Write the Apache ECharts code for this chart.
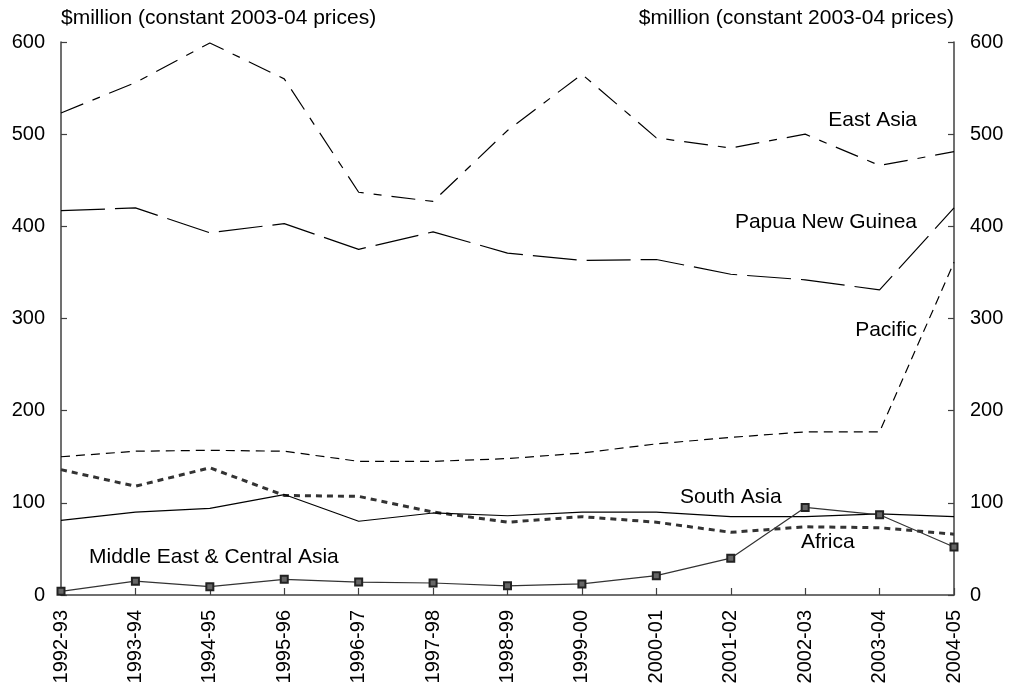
<!DOCTYPE html>
<html><head><meta charset="utf-8">
<script src="https://cdn.jsdelivr.net/npm/echarts@6/dist/echarts.min.js"></script>
<style>html,body{margin:0;padding:0;background:#fff}#c{width:1012px;height:693px}</style>
</head><body><div id="c"></div>
<script>
const years = ['1992-93','1993-94','1994-95','1995-96','1996-97','1997-98','1998-99','1999-00','2000-01','2001-02','2002-03','2003-04','2004-05'];
const eastAsia   = [523,556,599,560,437,427,504,565,496,485,500,466,481];
const png        = [417,420,393,403,375,394,371,363,364,348,342,331,420];
const pacific    = [150,156,157,156,145,145,148,154,164,171,177,177,361];
const africa     = [136,118,138,108,107,90,79,85,79,68,74,73,66];
const southAsia  = [81,90,94,109,80,89,86,90,90,85,85,88,85];
const middleEast = [4,15,9,17,14,13,10,12,21,40,95,87,52];
const yTicks = [0,100,200,300,400,500,600];
const axisTitle = '$million (constant 2003-04 prices)';

const F = 'Liberation Sans, Arial, sans-serif';
const axisCol = '#404040';
const chart = echarts.init(document.getElementById('c'));
function yAx(pos){
  return {
    type:'value', position:pos, min:yTicks[0], max:yTicks[yTicks.length-1], interval:100,
    name: axisTitle, nameLocation:'end', nameGap:24,
    nameTextStyle:{fontFamily:F,fontSize:21,color:'#000',align:pos==='left'?'left':'right',verticalAlign:'middle'},
    axisLine:{show:true,lineStyle:{color:axisCol,width:1.5}},
    axisTick:{show:true,inside:true,length:6,lineStyle:{color:axisCol,width:1.2}},
    axisLabel:{fontFamily:F,fontSize:20,color:'#000',margin:16},
    splitLine:{show:false}
  };
}
function line(name,data,style,extra){
  return Object.assign({name,type:'line',data,yAxisIndex:0,showSymbol:false,symbol:'none',
    lineStyle:Object.assign({color:'#000',width:1.2},style),animation:false,z:3},extra||{});
}
chart.setOption({
  animation:false,
  grid:{left:61,right:58,top:42,bottom:98,containLabel:false},
  xAxis:{type:'category',data:years,boundaryGap:false,
    axisLine:{lineStyle:{color:axisCol,width:1.5}},
    axisTick:{inside:true,length:7,lineStyle:{color:axisCol,width:1.2}},
    axisLabel:{rotate:90,fontFamily:F,fontSize:20,color:'#000',margin:15,interval:0}},
  yAxis:[yAx('left'),yAx('right')],
  series:[
    line('East Asia',eastAsia,{type:[24,10,8,10]}),
    line('Papua New Guinea',png,{type:[44,10]}),
    line('Pacific',pacific,{type:[9,6]}),
    line('Africa',africa,{type:[6,5],width:3,color:'#333'}),
    line('South Asia',southAsia,{}),
    line('Middle East & Central Asia',middleEast,{color:'#333'},
      {showSymbol:true,symbol:'rect',symbolSize:7,itemStyle:{color:'#666',borderColor:'#222',borderWidth:2}})
  ],
  graphic:[
    {type:'text',right:1012-917,top:110,style:{text:'East Asia',font:'21px '+F,fill:'#000'}},
    {type:'text',right:1012-917,top:212,style:{text:'Papua New Guinea',font:'21px '+F,fill:'#000'}},
    {type:'text',right:1012-917,top:320,style:{text:'Pacific',font:'21px '+F,fill:'#000'}},
    {type:'text',left:680,top:487,style:{text:'South Asia',font:'21px '+F,fill:'#000'}},
    {type:'text',left:801,top:532,style:{text:'Africa',font:'21px '+F,fill:'#000'}},
    {type:'text',left:89,top:547,style:{text:'Middle East & Central Asia',font:'21px '+F,fill:'#000'}}
  ]
});
</script></body></html>
